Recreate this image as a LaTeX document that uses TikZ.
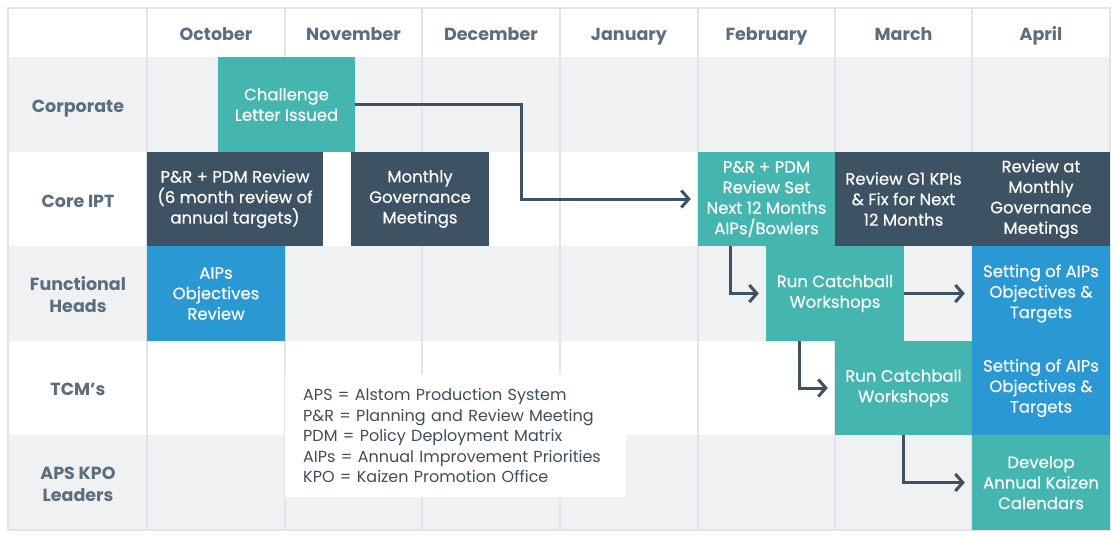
\documentclass[tikz,border=0pt]{standalone}
\usepackage{fontspec}
\setmainfont{Poppins}
\newfontfamily\medfont{Poppins}[FakeBold=0.4]
\usetikzlibrary{arrows.meta}
\definecolor{tealc}{HTML}{45B5AF}
\definecolor{darkc}{HTML}{3D5263}
\definecolor{bluec}{HTML}{2A98D3}
\definecolor{rowgrey}{HTML}{F0F1F3}
\definecolor{gridc}{HTML}{E2E4E7}
\definecolor{headc}{HTML}{5B6E7E}
\definecolor{legc}{HTML}{3F4E5B}
\tikzset{
  cell/.style={inner sep=0pt, align=center, text=white, font=\medfont\fontsize{16.5}{20.5}\selectfont},
  tealbox/.style={cell, fill=tealc},
  darkbox/.style={cell, fill=darkc},
  bluebox/.style={cell, fill=bluec},
  headtxt/.style={text=headc, font=\fontsize{17.5}{22}\selectfont\bfseries, align=center},
  arr/.style={draw=darkc, line width=3pt, -{Straight Barb[length=7.5pt,width=17pt]}, shorten >=7pt},
  gridline/.style={draw=gridc, line width=1.6pt}
}
\begin{document}
\begin{tikzpicture}[x=1pt,y=-1pt]
\useasboundingbox (0,0) rectangle (1118,535);
\fill[white] (0,0) rectangle (1118,535);
% rows
\fill[rowgrey] (8,57) rectangle (1110,152);
\fill[rowgrey] (8,246) rectangle (1110,341);
\fill[rowgrey] (8,435) rectangle (1110,530);
% grid
\foreach \x in {147,285,422,560,698,835,972} {\draw[gridline] (\x,8) -- (\x,530);}
\draw[gridline] (8,8) rectangle (1110,530);
% headers
\node[headtxt, anchor=base] (hoct) at (216,41) {October};
\node[headtxt, anchor=base] (hnov) at (353.5,41) {November};
\node[headtxt, anchor=base] (hdec) at (491,41) {December};
\node[headtxt, anchor=base] (hjan) at (629,41) {January};
\node[headtxt, anchor=base] (hfeb) at (766.5,41) {February};
\node[headtxt, anchor=base] (hmar) at (903.5,41) {March};
\node[headtxt, anchor=base] (hapr) at (1041,41) {April};
\node[headtxt, anchor=base] (rcorp) at (78,112) {Corporate};
\node[headtxt, anchor=base] (rcore) at (78,207) {Core IPT};
\node[headtxt] (rfh) at (78,295) {Functional\\Heads};
\node[headtxt, anchor=base] (rtcm) at (78,395) {TCM’s};
\node[headtxt] (raps) at (78,484) {APS KPO\\Leaders};
% boxes
\node[tealbox, minimum width=137pt, minimum height=95pt] (chal) at (286.5,104.5) {Challenge\\Letter Issued};
\node[darkbox, minimum width=176pt, minimum height=94pt] (pr1) at (235,199) {P\&R + PDM Review\\(6 month review of\\annual targets)};
\node[darkbox, minimum width=138pt, minimum height=94pt] (mg) at (420,199) {Monthly\\Governance\\Meetings};
\node[tealbox, minimum width=137pt, minimum height=94pt] (set) at (766.5,199) {P\&R + PDM\\Review Set\\Next 12 Months\\AIPs/Bowlers};
\node[darkbox, minimum width=137pt, minimum height=94pt] (g1) at (903.5,199) {Review G1 KPIs\\\& Fix for Next\\12 Months};
\node[darkbox, minimum width=138pt, minimum height=94pt] (rmg) at (1041,199) {Review at\\Monthly\\Governance\\Meetings};
\node[bluebox, minimum width=138pt, minimum height=95pt] (aips) at (216,293.5) {AIPs\\Objectives\\Review};
\node[tealbox, minimum width=138pt, minimum height=95pt] (rc1) at (835,293.5) {Run Catchball\\Workshops};
\node[bluebox, minimum width=138pt, minimum height=95pt] (sfh) at (1041,293.5) {Setting of AIPs\\Objectives \&\\Targets};
\node[tealbox, minimum width=137pt, minimum height=94pt] (rc2) at (903.5,388) {Run Catchball\\Workshops};
\node[bluebox, minimum width=138pt, minimum height=94pt] (stcm) at (1041,388) {Setting of AIPs\\Objectives \&\\Targets};
\node[tealbox, minimum width=138pt, minimum height=95pt] (dev) at (1041,482.5) {Develop\\Annual Kaizen\\Calendars};
% legend
\node[fill=white, anchor=north west, inner xsep=18pt, inner ysep=0pt, text width=305pt, minimum height=123pt, align=left, text=legc, font=\fontsize{16}{20.5}\selectfont] (legend) at (285,374)
 {APS = Alstom Production System\\P\&R = Planning and Review Meeting\\PDM = Policy Deployment Matrix\\AIPs = Annual Improvement Priorities\\KPO = Kaizen Promotion Office};
% arrows
\draw[arr] (chal.east) -- ++(166,0) |- (set.west);
\draw[arr] ([xshift=-36.5pt]set.south) |- (rc1.west);
\draw[arr] (rc1.east) -- (sfh.west);
\draw[arr] ([xshift=-36pt]rc1.south) |- (rc2.west);
\draw[arr] (rc2.south) |- (dev.west);
\end{tikzpicture}
\end{document}
